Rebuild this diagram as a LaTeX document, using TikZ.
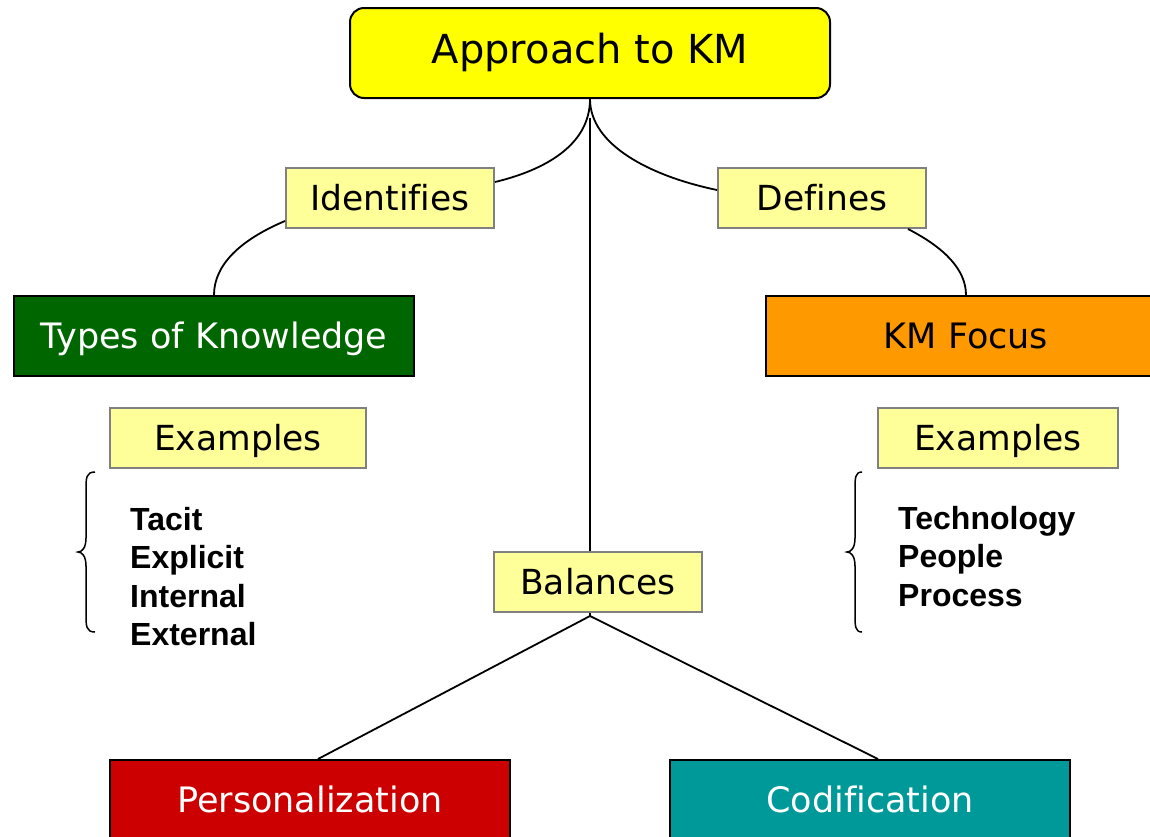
\documentclass[tikz,border=0pt]{standalone}
\usepackage{fontspec}
\setmainfont{DejaVu Sans}[Ligatures=NoCommon]
\newfontfamily\listfont{Liberation Sans}
\definecolor{topyellow}{HTML}{FFFF00}
\definecolor{tagyellow}{HTML}{FFFF99}
\definecolor{tagborder}{HTML}{808080}
\definecolor{kgreen}{HTML}{006600}
\definecolor{korange}{HTML}{FF9900}
\definecolor{kred}{HTML}{CC0000}
\definecolor{kteal}{HTML}{009999}
\begin{document}
\begin{tikzpicture}[x=1pt,y=-1pt,
  mainbox/.style={draw=black, line width=2pt, minimum width=400pt, minimum height=80pt, inner sep=0pt,
    text height=25.5pt, text depth=0pt, font=\fontsize{35}{42}\selectfont},
  tagbox/.style={draw=tagborder, fill=tagyellow, line width=2pt, minimum width=208pt, minimum height=60pt,
    inner sep=0pt, text height=25pt, text depth=0pt, font=\fontsize{34.5}{42}\selectfont},
  conn/.style={black, line width=1.8pt},
  bracestyle/.style={black, line width=1.5pt},
  listtext/.style={anchor=north west, align=left, inner sep=0pt, font=\listfont\bfseries\fontsize{32}{38.5}\selectfont}]
\useasboundingbox (0,0) rectangle (1150,836);
\clip (0,0) rectangle (1150,836);

% nodes
\node[draw=black, fill=topyellow, line width=2pt, rounded corners=14pt, minimum width=480pt, minimum height=90pt,
  inner sep=0pt, text height=29pt, text depth=8pt, font=\fontsize{40}{48}\selectfont] (top) at (590,53) {Approach to KM};
\node[tagbox] (ident) at (390,198) {Identifies};
\node[tagbox] (defines) at (822,198) {Defines};
\node[mainbox, fill=kgreen, text=white] (types) at (214,336) {Types of Knowledge};
\node[mainbox, fill=korange, text=black] (kmf) at (966,336) {KM Focus};
\node[tagbox, minimum width=256pt] (exl) at (238,438) {Examples};
\node[tagbox, minimum width=240pt] (exr) at (998,438) {Examples};
\node[tagbox] (bal) at (598,582) {Balances};
\node[mainbox, fill=kred, text=white] (pers) at (310,800) {Personalization};
\node[mainbox, fill=kteal, text=white] (cod) at (870,800) {Codification};

\node[listtext] (listl) at (130,507) {Tacit\\Explicit\\Internal\\External};
\node[listtext] (listr) at (898,506) {Technology\\People\\Process};

% connectors
\coordinate (vtop) at (590,118);
\coordinate (bapex) at (590,616);
\draw[conn] (top.south) .. controls (590,145) and (545,170) .. ([yshift=16pt]ident.east);
\draw[conn] (top.south) .. controls (590,145) and (650,176) .. ([yshift=8pt]defines.west);
\draw[conn] (vtop) -- (vtop |- bal.north);
\draw[conn] ([yshift=-23pt]ident.west) .. controls (240,240) and (214,265) .. (types.north);
\draw[conn] ([xshift=-19pt]defines.south east) .. controls (945,248) and (966,270) .. (kmf.north);
\draw[conn] (bal.south -| bapex) -- (bapex);
\draw[conn] (bapex) -- ([xshift=8pt]pers.north);
\draw[conn] (bapex) -- ([xshift=8pt]cod.north);

% braces
\draw[bracestyle] (95,472) .. controls (86,472) and (86,478) .. (86,490) -- (86,538)
  .. controls (86,548) and (82,552) .. (78,552) .. controls (82,552) and (86,556) .. (86,566)
  -- (86,614) .. controls (86,626) and (86,632) .. (95,632);
\draw[bracestyle] (862,472) .. controls (855,472) and (855,478) .. (855,490) -- (855,538)
  .. controls (855,548) and (851,552) .. (847,552) .. controls (851,552) and (855,556) .. (855,566)
  -- (855,614) .. controls (855,626) and (855,632) .. (862,632);
\end{tikzpicture}
\end{document}
